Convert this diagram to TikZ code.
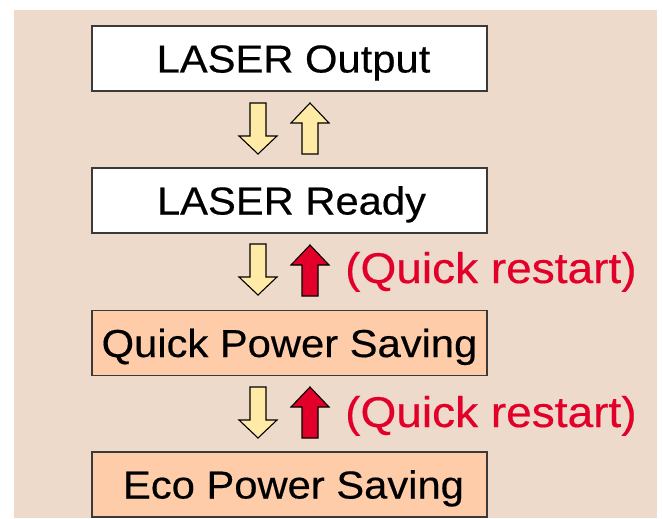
\documentclass[tikz,border=0pt]{standalone}
\usepackage{fontspec}
\setmainfont{Liberation Sans}[FakeStretch=1.07,FakeBold=0.4]
\definecolor{bgbeige}{HTML}{EDDACA}
\definecolor{peach}{HTML}{FFCCAA}
\definecolor{arrowyellow}{HTML}{FFEAA6}
\definecolor{qred}{HTML}{E2002A}
\definecolor{boxline}{HTML}{3A3A3A}
\tikzset{
  statebox/.style={draw=boxline, line width=1.2pt, minimum width=395pt, minimum height=65pt,
    inner sep=0pt, text height=28pt, text depth=0pt, font=\fontsize{39}{39}\selectfont},
  blk/.style={draw=black, line width=1.1pt, line join=miter},
  redlabel/.style={text=qred, font=\fontsize{43}{43}\selectfont, inner sep=0pt, anchor=base west}
}
\newcommand\blkdown[3]{\draw[blk,fill=#3] (#1-8,#2) -- (#1+8,#2) -- (#1+8,#2+33) -- (#1+19,#2+33) -- (#1,#2+51) -- (#1-19,#2+33) -- (#1-8,#2+33) -- cycle;}
\newcommand\blkup[3]{\draw[blk,fill=#3] (#1,#2) -- (#1+19,#2+20) -- (#1+8,#2+20) -- (#1+8,#2+51) -- (#1-8,#2+51) -- (#1-8,#2+20) -- (#1-19,#2+20) -- cycle;}
\begin{document}
\begin{tikzpicture}[x=1pt,y=-1pt]
\useasboundingbox (0,0) rectangle (662,519);
\fill[white] (0,0) rectangle (662,519);
\fill[bgbeige] (14,10) rectangle (657,518);
\node[statebox, fill=white] (out) at (289.5,58.5) {\hspace{8pt}LASER Output};
\node[statebox, fill=white] (ready) at (289.5,200.5) {\hspace{4pt}LASER Ready};
\node[statebox, fill=peach] (quick) at (289.5,343) {Quick Power Saving};
\node[statebox, fill=peach] (eco) at (289.5,484.5) {\hspace{8pt}Eco Power Saving};
\blkdown{258}{103}{arrowyellow}
\blkup{310}{103}{arrowyellow}
\blkdown{258}{244}{arrowyellow}
\blkup{310}{245}{qred}
\blkdown{258}{387}{arrowyellow}
\blkup{310}{387}{qred}
\node[redlabel] (qr1) at (345,283) {(Quick restart)};
\node[redlabel] (qr2) at (345,427) {(Quick restart)};
\end{tikzpicture}
\end{document}
